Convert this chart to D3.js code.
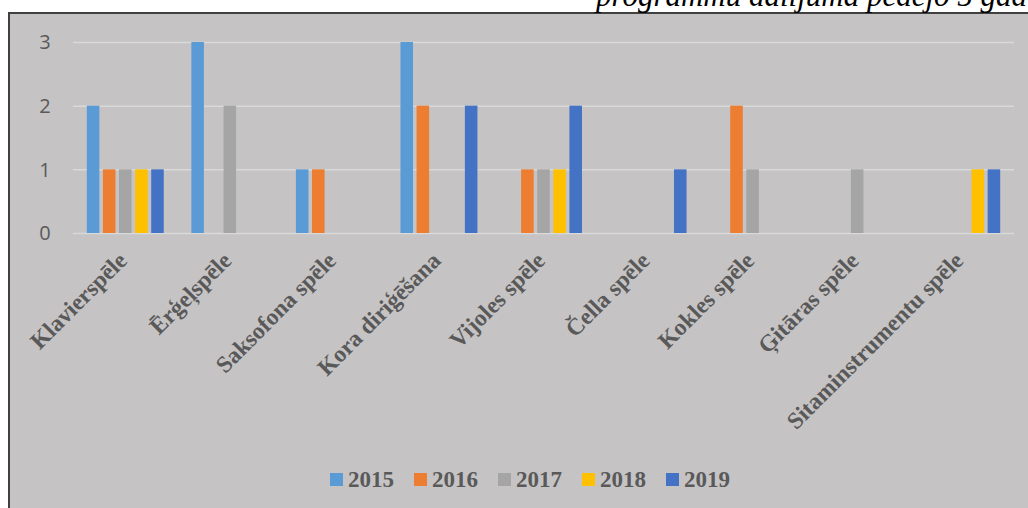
<!DOCTYPE html>
<html>
<head>
<meta charset="utf-8">
<script src="https://cdn.jsdelivr.net/npm/d3@7"></script>
<style>
  body { margin: 0; background: #fff; }
  svg { display: block; }
  .grid line { stroke: #d9d9d9; stroke-width: 1.5; }
  .grid .domain { display: none; }
</style>
</head>
<body>
<svg id="chart"></svg>
<script>
// categories (study programmes)
const programmes = [
  'Klavierspēle', 'Ērģeļspēle', 'Saksofona spēle', 'Kora diriģēšana',
  'Vijoles spēle', 'Čella spēle', 'Kokles spēle', 'Ģitāras spēle',
  'Sitaminstrumentu spēle'
];

// years (series)
const years = ['2015', '2016', '2017', '2018', '2019'];

// values per year, one entry for each programme
const values2015 = [2, 3, 1, 3, 0, 0, 0, 0, 0];
const values2016 = [1, 0, 1, 2, 1, 0, 2, 0, 0];
const values2017 = [1, 2, 0, 0, 1, 0, 1, 1, 0];
const values2018 = [1, 0, 0, 0, 1, 0, 0, 0, 1];
const values2019 = [1, 0, 0, 2, 2, 1, 0, 0, 1];

const yTicks = [0, 1, 2, 3];

const colors = ['#5b9bd5', '#ed7d31', '#a5a5a5', '#ffc000', '#4472c4'];

const titleText = 'programmu dalījumā pēdējo 5 gadu';

// build rows for d3
const series = [values2015, values2016, values2017, values2018, values2019];
const rows = programmes.map((p, i) => ({
  name: p,
  vals: years.map((y, j) => ({ year: y, value: series[j][i] }))
}));

const width = 1028;
const height = 508;

const svg = d3.select('#chart')
  .attr('width', width)
  .attr('height', height);

// chart frame
svg.append('rect')
  .attr('x', 9)
  .attr('y', 13)
  .attr('width', width + 20)
  .attr('height', height)
  .attr('fill', '#c5c3c4')
  .attr('stroke', '#404040')
  .attr('stroke-width', 2);

// title line above the frame, cut by the top of the page as in the source
svg.append('text')
  .attr('x', 596)
  .attr('y', 6)
  .attr('font-family', '"Liberation Serif", "Times New Roman", serif')
  .attr('font-style', 'italic')
  .attr('font-size', 31)
  .attr('fill', '#000')
  .text(titleText);

const plotLeft = 73;
const plotRight = 1014;

const x0 = d3.scaleBand()
  .domain(programmes)
  .range([plotLeft, plotRight])
  .paddingInner(0.23)
  .paddingOuter(0.115);

const x1 = d3.scaleBand()
  .domain(years)
  .range([0, x0.bandwidth()])
  .paddingInner(0.22)
  .paddingOuter(0.11);

const y = d3.scaleLinear()
  .domain([0, 3])
  .range([233, 42]);

const color = d3.scaleOrdinal().domain(years).range(colors);

// gridlines
svg.append('g')
  .attr('class', 'grid')
  .attr('transform', `translate(${plotLeft},0)`)
  .call(d3.axisLeft(y).tickValues(yTicks).tickSize(-(plotRight - plotLeft)).tickFormat(''));

// y labels
svg.append('g')
  .selectAll('text')
  .data(yTicks)
  .join('text')
  .attr('x', 45)
  .attr('y', d => y(d))
  .attr('dy', '0.36em')
  .attr('text-anchor', 'middle')
  .attr('font-family', '"Open Sans", "Liberation Sans", sans-serif')
  .attr('font-size', 20)
  .attr('fill', '#595959')
  .text(d => d);

// bars
const groups = svg.append('g')
  .selectAll('g')
  .data(rows)
  .join('g')
  .attr('transform', d => `translate(${x0(d.name)},0)`);

groups.selectAll('rect')
  .data(d => d.vals.filter(v => v.value > 0))
  .join('rect')
  .attr('x', d => x1(d.year))
  .attr('y', d => y(d.value))
  .attr('width', x1.bandwidth())
  .attr('height', d => y(0) - y(d.value))
  .attr('fill', d => color(d.year));

// rotated category labels
svg.append('g')
  .selectAll('text')
  .data(programmes)
  .join('text')
  .attr('text-anchor', 'end')
  .attr('font-family', '"Liberation Serif", "Times New Roman", serif')
  .attr('font-weight', 'bold')
  .attr('font-size', 23.5)
  .attr('fill', '#595959')
  .attr('transform', d => {
    const cx = x0(d) + x0.bandwidth() / 2 + 3;
    return `translate(${cx},262) rotate(-45)`;
  })
  .text(d => d);

// legend
const legend = svg.append('g')
  .selectAll('g')
  .data(years)
  .join('g')
  .attr('transform', (d, i) => `translate(${330 + i * 84},473)`);

legend.append('rect')
  .attr('width', 13)
  .attr('height', 13)
  .attr('fill', d => color(d));

legend.append('text')
  .attr('x', 18)
  .attr('y', 14)
  .attr('font-family', '"Liberation Serif", "Times New Roman", serif')
  .attr('font-weight', 'bold')
  .attr('font-size', 23)
  .attr('fill', '#595959')
  .text(d => d);
</script>
</body>
</html>
